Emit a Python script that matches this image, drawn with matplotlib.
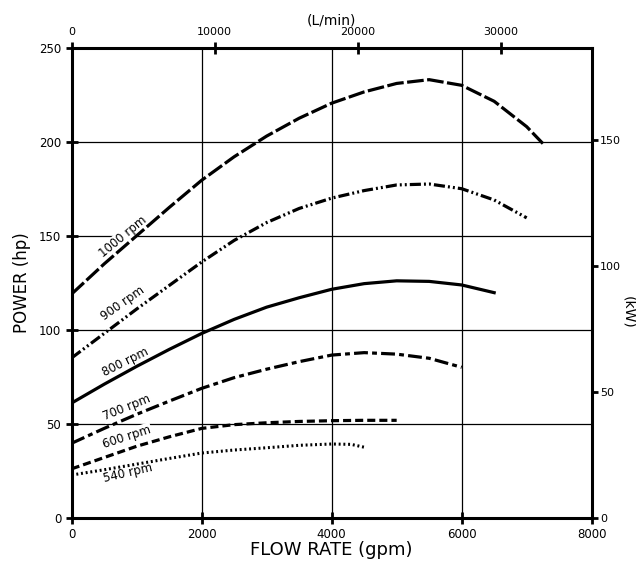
import numpy as np
import matplotlib
matplotlib.use("Agg")
import matplotlib.pyplot as plt

plt.rcParams['font.family'] = ['DejaVu Sans']
plt.rcParams['lines.scale_dashes'] = False

# Curves: flow rate (gpm) vs power (hp)
gpm_1000 = [0, 500, 1000, 1500, 2000, 2500, 3000, 3500, 4000, 4500, 5000, 5500, 6000, 6500, 7000, 7250]
hp_1000 = [119, 135, 150, 165, 179.5, 192, 203, 212.5, 220.5, 226.5, 231, 233, 230, 221.5, 208, 199]

gpm_900 = [0, 500, 1000, 1500, 2000, 2500, 3000, 3500, 4000, 4500, 5000, 5500, 6000, 6500, 7000]
hp_900 = [85, 98, 111, 123.5, 136, 147.5, 157, 164.5, 170, 174, 177, 177.5, 175, 169, 159.5]

gpm_800 = [0, 500, 1000, 1500, 2000, 2500, 3000, 3500, 4000, 4500, 5000, 5500, 6000, 6500]
hp_800 = [61, 71, 80.5, 89.5, 98, 105.5, 112, 117, 121.5, 124.5, 126, 125.7, 123.8, 119.7]

gpm_700 = [0, 500, 1000, 1500, 2000, 2500, 3000, 3500, 4000, 4500, 5000, 5500, 6000]
hp_700 = [39.6, 47.5, 55, 62, 68.8, 74.5, 79, 83, 86.5, 87.8, 87, 84.8, 80]

gpm_600 = [0, 500, 1000, 1500, 2000, 2500, 3000, 3500, 4000, 4500, 5000]
hp_600 = [26, 32, 38, 43, 47.5, 49.5, 50.5, 51.2, 51.6, 51.8, 51.8]

gpm_540 = [0, 500, 1000, 1500, 2000, 2500, 3000, 3500, 4000, 4300, 4500]
hp_540 = [22.7, 25.5, 28.5, 31.5, 34.4, 36, 37.2, 38.5, 39.2, 39, 37.5]

# label text, anchor (gpm, hp), screen rotation
labels = ["1000 rpm", "900 rpm", "800 rpm", "700 rpm", "600 rpm", "540 rpm"]
label_x = [790, 790, 820, 850, 850, 866]
label_y = [149.5, 114, 82.8, 58.4, 43, 23.8]
label_rot = [39.5, 35, 26.5, 22, 18, 13]

GAL_TO_L = 4.546   # imperial gallon
HP_PER_KW = 1.341

fig = plt.figure(figsize=(6.36, 5.64), dpi=100)
ax = fig.add_axes([0.1127, 0.0821, 0.8176, 0.8333])

lw = 2.3
ax.plot(gpm_1000, hp_1000, color='black', lw=lw, dashes=(12, 2.5), dash_capstyle='butt')
ax.plot(gpm_900, hp_900, color='black', lw=lw, dashes=(8, 2.2, 1.4, 2.2, 1.4, 2.2), dash_capstyle='butt')
ax.plot(gpm_800, hp_800, color='black', lw=lw)
ax.plot(gpm_700, hp_700, color='black', lw=lw, dashes=(10, 3, 3.5, 3), dash_capstyle='butt')
ax.plot(gpm_600, hp_600, color='black', lw=lw, dashes=(5.8, 2.9), dash_capstyle='butt')
ax.plot(gpm_540, hp_540, color='black', lw=2.2, dashes=(1.4, 2.0), dash_capstyle='butt')

for t, x, y, r in zip(labels, label_x, label_y, label_rot):
    ax.text(x, y, t, rotation=r, ha='center', va='center', fontsize=8.5,
            rotation_mode='anchor', zorder=1,
            bbox=dict(facecolor='white', edgecolor='none', pad=0.5))

ax.set_xlim(0, 8000)
ax.set_ylim(0, 250)
ax.set_xticks([0, 2000, 4000, 6000, 8000])
ax.set_yticks([0, 50, 100, 150, 200, 250])
ax.grid(True, color='black', lw=0.9)
ax.set_axisbelow(True)
for s in ax.spines.values():
    s.set_linewidth(2.2)
ax.tick_params(direction='inout', length=8, width=2, labelsize=8.5)
ax.set_xlabel("FLOW RATE (gpm)", fontsize=13, labelpad=0)
ax.set_ylabel("POWER (hp)", fontsize=12, labelpad=6)

top = ax.secondary_xaxis('top', functions=(lambda g: g * GAL_TO_L, lambda l: l / GAL_TO_L))
top.set_xticks([0, 10000, 20000, 30000])
top.tick_params(direction='inout', length=8, width=2, labelsize=8)
top.set_xlabel("(L/min)", fontsize=10, labelpad=2)

right = ax.secondary_yaxis('right', functions=(lambda h: h / HP_PER_KW, lambda k: k * HP_PER_KW))
right.set_yticks([0, 50, 100, 150])
right.tick_params(direction='out', length=4, width=2, labelsize=8, pad=2)
fig.text(628 / 636, 1 - 312 / 564, "(kW)", fontsize=10, rotation=270,
         ha='center', va='center')

fig.savefig("out.png", dpi=100)
